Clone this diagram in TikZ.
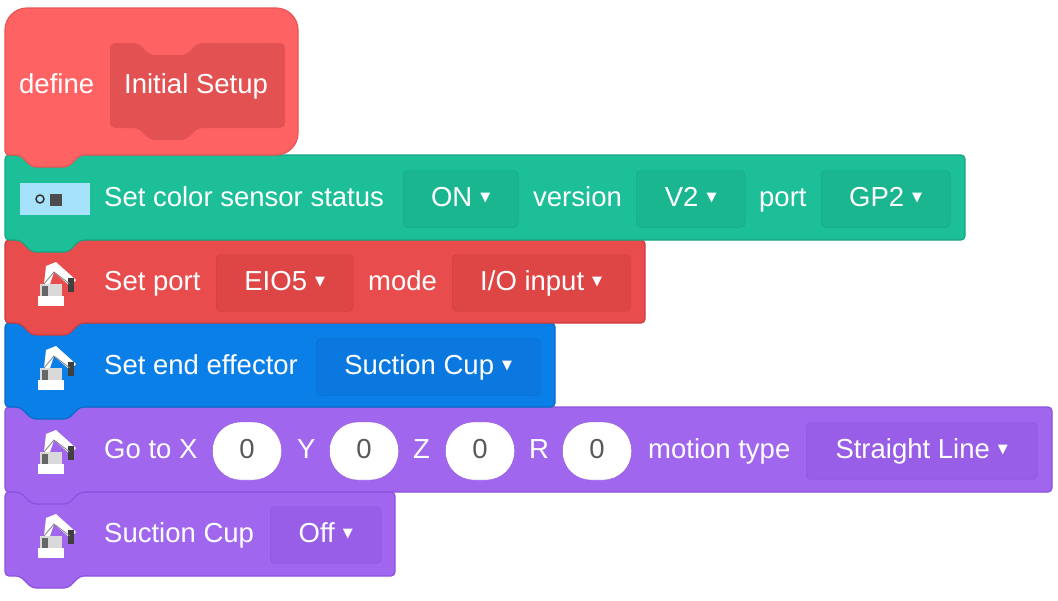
\documentclass[tikz,border=0pt]{standalone}
\usepackage{fontspec}
\setmainfont{Liberation Sans}
\newfontfamily\symfont{DejaVu Sans}
\usetikzlibrary{calc}
\definecolor{hatred}{HTML}{FF6262}
\definecolor{hatline}{HTML}{E65656}
\definecolor{hatarg}{HTML}{E35252}
\definecolor{sensgreen}{HTML}{1CBF98}
\definecolor{sensline}{HTML}{17A583}
\definecolor{sensdd}{HTML}{19B690}
\definecolor{portred}{HTML}{E84C4C}
\definecolor{portline}{HTML}{CC3E3E}
\definecolor{portdd}{HTML}{DE4646}
\definecolor{effblue}{HTML}{0A7FE8}
\definecolor{effline}{HTML}{086CC8}
\definecolor{effdd}{HTML}{0A78DE}
\definecolor{motpurple}{HTML}{A066EE}
\definecolor{motline}{HTML}{8C52DC}
\definecolor{motdd}{HTML}{985EE8}
\tikzset{
  lbl/.style = {text=white, anchor=west, inner sep=0pt, text height=20pt, text depth=6pt,
    font=\fontsize{27.5}{30}\selectfont},
  dd/.style = {lbl, rounded corners=5, minimum height=57pt,
    inner xsep=18pt, anchor=west, align=left},% menu deroulant
  num/.style = {rounded corners=28pt, fill=white, draw=#1, minimum height=58pt,
    minimum width=69pt, inner sep=0pt, text=gray!70!black, text height=20pt, text depth=6pt,
    font=\fontsize{27.5}{30}\selectfont},% champ numerique
  stack/.style = {rounded corners=4, line width=1.2pt}
}
% bloc empile avec languette en bas
\newcommand{\stackblock}[5]{%
  \draw[stack, #1] (#2,#3) -- (#4,#3) -- (#4,#5) -- ({#2+75},#5)
    -- ({#2+63},{#5+12}) -- ({#2+27},{#5+12}) -- ({#2+15},#5) -- (#2,#5) -- cycle;}
\newcommand{\arrowdn}{\hspace{8pt}\raisebox{5pt}{\symfont\fontsize{13}{13}\selectfont ▼}}
% petit bras robot
\newcommand{\robot}[2]{%
  \begin{scope}[shift={(#1,#2)}]
    \fill[white] (14,34) rectangle (40,44);
    \fill[gray!30] (16,22) rectangle (38,34);
    \fill[white] (22,4) -- (32,0) -- (52,18) -- (46,24) -- (30,10) -- (26,22) -- (20,22) -- cycle;
    \fill[black!75] (44,16) rectangle (50,30);
    \fill[black!60] (18,24) rectangle (24,34);
    \draw[black!50, line width=0.8pt] (20,22) -- (30,10) -- (46,22);
  \end{scope}}
\begin{document}
\begin{tikzpicture}[x=1pt, y=-1pt]
\useasboundingbox (0,0) rectangle (1058,600);

% blocs du bas vers le haut
\stackblock{fill=motpurple, draw=motline}{5}{492}{395}{576}
\stackblock{fill=motpurple, draw=motline}{5}{407}{1052}{492}
\stackblock{fill=effblue, draw=effline}{5}{323}{555}{407}
\stackblock{fill=portred, draw=portline}{5}{240}{645}{323}
\stackblock{fill=sensgreen, draw=sensline}{5}{155}{965}{240}
\draw[stack, fill=hatred, draw=hatline, rounded corners=22] (5,155) -- (5,8) -- (298,8) -- (298,155)
  [rounded corners=4] -- (80,155) -- (68,167) -- (32,167) -- (20,155) -- cycle;

% define
\node[lbl] (def) at (19,86) {define};
\fill[hatarg, rounded corners=5] (110,43) -- (138,43) -- (150,55) -- (186,55) -- (198,43)
  -- (285,43) -- (285,128) -- (198,128) -- (186,140) -- (150,140) -- (138,128) -- (110,128) -- cycle;
\node[lbl] (name) at (124,86) {Initial Setup};

% capteur couleur
\fill[cyan!35] (20,183) rectangle (90,215);
\draw[black!80, line width=1.5pt] (40,199) circle (4);
\fill[black!70] (50,194) rectangle (62,206);
\node[lbl] (sens) at (104,199) {Set color sensor status};
\node[dd, fill=sensdd, draw=sensline, minimum width=115pt] (on) at (403,199) {ON\arrowdn};
\node[lbl] (ver) at (533,199) {version};
\node[dd, fill=sensdd, draw=sensline, minimum width=109pt] (v2) at (636,199) {V2\arrowdn};
\node[lbl] (port) at (759,199) {port};
\node[dd, fill=sensdd, draw=sensline, minimum width=129pt] (gp2) at (821,199) {GP2\arrowdn};

% port
\robot{24}{262}
\node[lbl] (setport) at (104,283) {Set port};
\node[dd, fill=portdd, draw=portline, minimum width=137pt] (eio) at (216,283) {EIO5\arrowdn};
\node[lbl] (mode) at (368,283) {mode};
\node[dd, fill=portdd, draw=portline, minimum width=178pt] (io) at (452,283) {I/O input\arrowdn};

% effecteur
\robot{24}{346}
\node[lbl] (eff) at (104,367) {Set end effector};
\node[dd, fill=effdd, draw=effline, minimum width=224pt] (cup) at (316,367) {Suction Cup\arrowdn};

% deplacement
\robot{24}{430}
\node[lbl] (goto) at (104,451) {Go to X};
\node[num=motline] (xv) at (247,451) {0};
\node[lbl] (ylbl) at (297,451) {Y};
\node[num=motline] (yv) at (364,451) {0};
\node[lbl] (zlbl) at (413,451) {Z};
\node[num=motline] (zv) at (480,451) {0};
\node[lbl] (rlbl) at (529,451) {R};
\node[num=motline] (rv) at (597,451) {0};
\node[lbl] (mt) at (648,451) {motion type};
\node[dd, fill=motdd, draw=motline, minimum width=231pt] (line) at (806,451) {Straight Line\arrowdn};

% ventouse
\robot{24}{514}
\node[lbl] (suc) at (104,535) {Suction Cup};
\node[dd, fill=motdd, draw=motline, minimum width=111pt] (off) at (270,535) {Off\arrowdn};
\end{tikzpicture}
\end{document}
